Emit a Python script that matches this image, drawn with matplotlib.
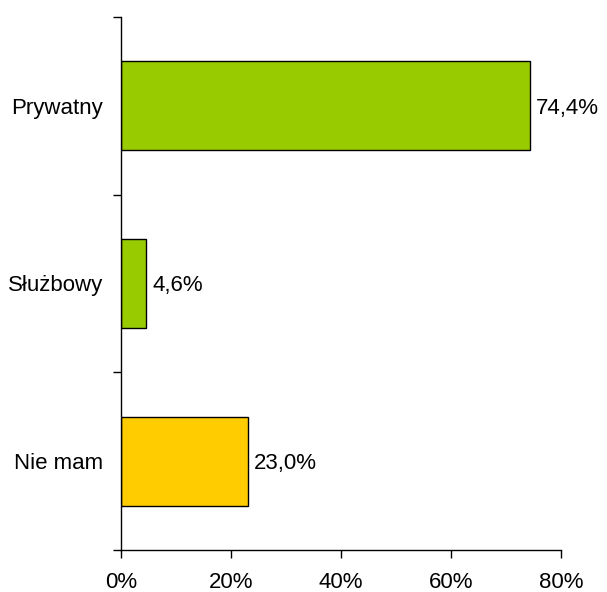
import matplotlib
matplotlib.use("Agg")
import matplotlib.pyplot as plt
from matplotlib.ticker import FixedLocator

categories = ["Prywatny", "Służbowy", "Nie mam"]
values = [74.4, 4.6, 23.0]
colors = ["#99CC00", "#99CC00", "#FFCC00"]
xticks = [0, 20, 40, 60, 80]
xtick_labels = ["0%", "20%", "40%", "60%", "80%"]
value_labels = ["74,4%", "4,6%", "23,0%"]

plt.rcParams['font.family'] = ['Liberation Sans', 'DejaVu Sans']
FS = 16

fig = plt.figure(figsize=(6.07, 5.92), dpi=100)
ax = fig.add_axes([121/607, 1-550/592, 440/607, 533/592])

n = len(categories)
ypos = [n - 1 - i for i in range(n)]
ax.barh(ypos, values, height=0.5, color=colors, edgecolor="black", linewidth=1.0)

for y, v, lab in zip(ypos, values, value_labels):
    ax.text(v + 1.1, y, lab, va="center_baseline", ha="left", fontsize=FS)

ax.set_xlim(0, 80)
ax.set_ylim(-0.5, n - 0.5)
ax.set_xticks(xticks)
ax.set_xticklabels(xtick_labels, fontsize=FS)

ax.yaxis.set_major_locator(FixedLocator([i - 0.5 for i in range(n + 1)]))
ax.yaxis.set_major_formatter(plt.NullFormatter())
ax.set_yticks(ypos, minor=True)
ax.set_yticklabels(categories, minor=True, fontsize=FS)
ax.tick_params(axis="y", which="minor", length=0, pad=13)
ax.tick_params(axis="y", which="major", length=6, direction="out", width=1)
ax.tick_params(axis="x", length=6, direction="out", width=1, pad=10)

for s in ["top", "right"]:
    ax.spines[s].set_visible(False)
for s in ["left", "bottom"]:
    ax.spines[s].set_linewidth(1)

fig.savefig("out.png", dpi=100)
